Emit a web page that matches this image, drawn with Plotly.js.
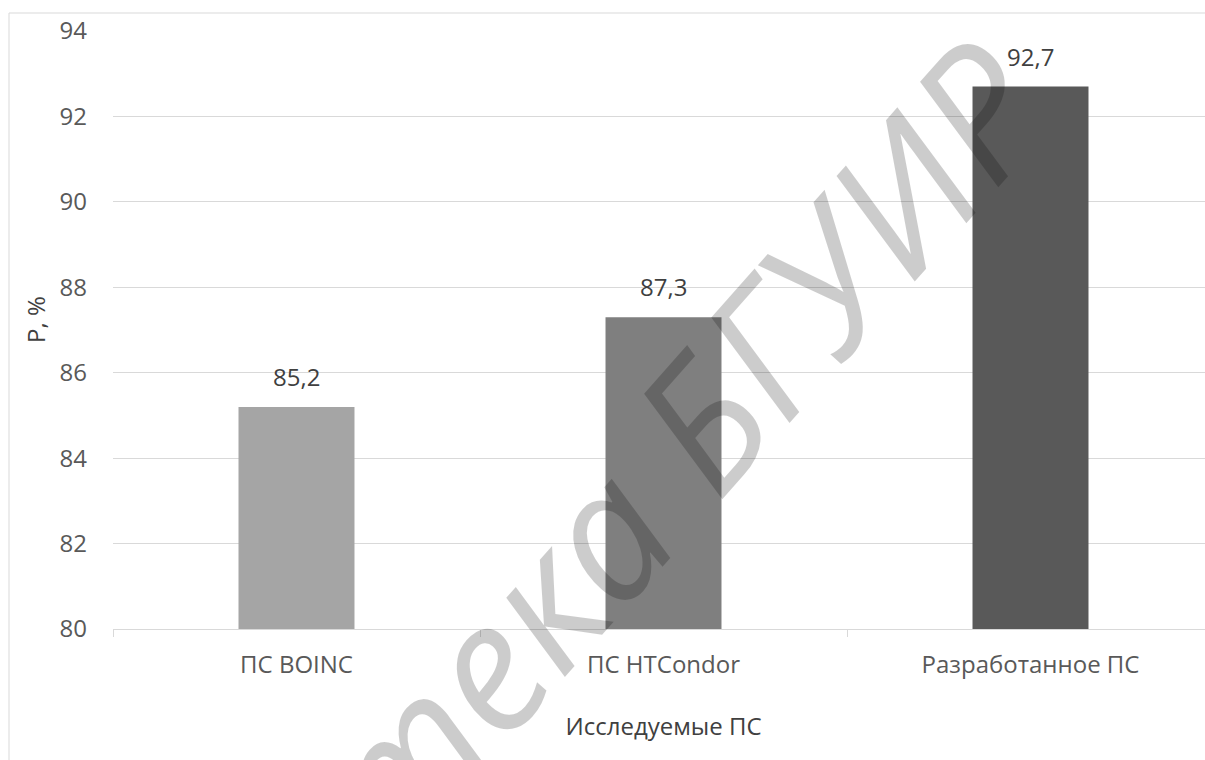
<!DOCTYPE html>
<html>
<head>
<meta charset="utf-8">
<script src="https://cdn.plot.ly/plotly-3.0.1.min.js"></script>
<style>
  html, body { margin: 0; padding: 0; overflow: hidden; background: #ffffff; }
  #chart { width: 1220px; height: 760px; }
</style>
</head>
<body>
<div id="chart"></div>
<script>
// ---- data ----
const categories = ["ПС BOINC", "ПС HTCondor", "Разработанное ПС"];
const values = [85.2, 87.3, 92.7];
const barColors = ["#a5a5a5", "#7f7f7f", "#595959"];
const yTickValues = [80, 82, 84, 86, 88, 90, 92, 94];
const xTitle = "Исследуемые ПС";
const yTitle = "P, %";
const watermark = "Библиотека БГУИР";

function fmt(v) { return v.toFixed(1).replace(".", ","); }

const trace = {
  type: "bar",
  x: categories,
  y: values,
  marker: { color: barColors, line: { width: 0 } },
  hoverinfo: "skip",
  showlegend: false
};

const labelAnnotations = categories.map((c, i) => ({
  x: c, y: values[i], xref: "x", yref: "y",
  text: fmt(values[i]),
  showarrow: false, xanchor: "center", yanchor: "bottom", yshift: 12,
  font: { family: "Open Sans", size: 24, color: "#404040" }
}));

const layout = {
  width: 1220, height: 760,
  margin: { l: 113, r: 6, t: 31, b: 131 },
  paper_bgcolor: "#ffffff", plot_bgcolor: "#ffffff",
  font: { family: "Open Sans", color: "#595959" },
  bargap: 0.684,
  xaxis: {
    type: "category",
    showgrid: false, zeroline: false,
    showline: true, linecolor: "#d9d9d9", linewidth: 1,
    ticks: "outside", tickson: "boundaries", ticklen: 7, tickcolor: "#d9d9d9", tickwidth: 1,
    tickfont: { family: "Open Sans", size: 24, color: "#595959" },
    ticklabelstandoff: 14,
    title: { text: xTitle, font: { family: "Open Sans", size: 24, color: "#404040" }, standoff: 39 }
  },
  yaxis: {
    range: [80, 94], tickvals: yTickValues,
    showgrid: true, gridcolor: "#d9d9d9", gridwidth: 1,
    zeroline: false, showline: false, ticks: "",
    tickfont: { family: "Open Sans", size: 24, color: "#595959" },
    ticklabelstandoff: 25
  },
  shapes: [{
    type: "rect", xref: "paper", yref: "paper",
    x0: (9 - 113) / 1101, x1: 1.01,
    y0: -0.25, y1: 1 + (31 - 13) / 598,
    line: { color: "#d9d9d9", width: 1 }, fillcolor: "rgba(0,0,0,0)", layer: "below"
  }],
  annotations: labelAnnotations.concat([
    {
      xref: "paper", yref: "paper",
      x: (35 - 113) / 1101, y: (629 - 320) / 598,
      xanchor: "center", yanchor: "middle",
      text: yTitle, textangle: -90, showarrow: false,
      font: { family: "Open Sans", size: 24, color: "#404040" }
    },
    {
      xref: "paper", yref: "paper",
      x: (476 - 113) / 1101, y: (629 - 672) / 598,
      xanchor: "center", yanchor: "middle",
      text: watermark, textangle: -48.5, showarrow: false,
      font: { family: "Open Sans", size: 180, weight: 400, style: "italic", color: "rgba(0,0,0,0.2)" }
    }
  ])
};

Plotly.newPlot("chart", [trace], layout, { staticPlot: true, displayModeBar: false });
</script>
</body>
</html>
